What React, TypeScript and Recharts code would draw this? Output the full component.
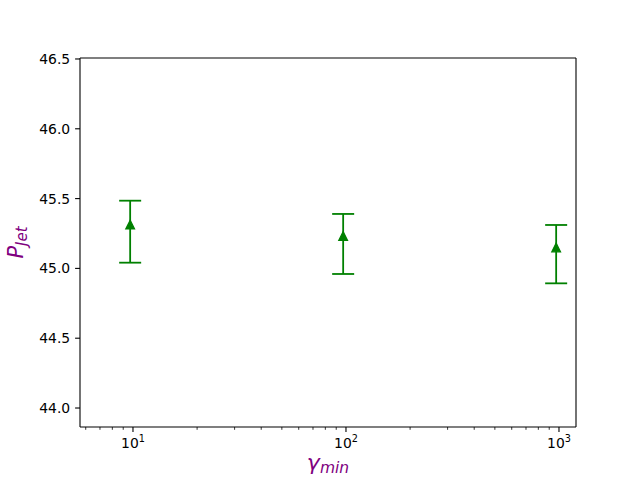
import React from 'react';
import { ComposedChart, Scatter, ErrorBar, XAxis, YAxis } from 'recharts';

// gamma_min values (x), P_jet values (y), asymmetric errors
const gammaMin = [9.7, 97, 970];
const pJet = [45.314, 45.232, 45.15];
const errLow = [0.273, 0.272, 0.257];
const errHigh = [0.171, 0.158, 0.161];

const yTicks = [44.0, 44.5, 45.0, 45.5, 46.0, 46.5];
const xDomain = [5.64, 1202];
const yDomain = [43.864, 46.507];
const xTicks: number[] = [];
for (let d = 0; d <= 3; d++) {
  for (let k = 1; k <= 9; k++) {
    const v = k * Math.pow(10, d);
    if (v >= xDomain[0] && v <= xDomain[1]) xTicks.push(v);
  }
}

const data = gammaMin.map((g, i) => ({ x: g, y: pJet[i], err: [errLow[i], errHigh[i]] }));

const GREEN = '#008000';
const PURPLE = '#800080';
const FONT = 'DejaVu Sans';

const XTick = (props: any) => {
  const { x, y, payload } = props;
  const v = payload.value as number;
  const lg = Math.log10(v);
  const exp = Math.round(lg);
  const major = Math.abs(lg - exp) < 1e-6;
  return (
    <g>
      <line x1={x} y1={y} x2={x} y2={y + (major ? 4.9 : 2.8)} stroke="#000" strokeWidth={major ? 1.1 : 0.8} />
      {major && (
        <text x={x} y={y + 21} textAnchor="middle" fontFamily={FONT} fontSize={13.9} fill="#000">
          10<tspan dy={-6} fontSize={9.7}>{exp}</tspan>
        </text>
      )}
    </g>
  );
};

const YTick = (props: any) => {
  const { x, y, payload } = props;
  return (
    <g>
      <line x1={x} y1={y} x2={x - 4.9} y2={y} stroke="#000" strokeWidth={1.1} />
      <text x={x - 9.8} y={y} dy="0.36em" textAnchor="end" fontFamily={FONT} fontSize={13.9} fill="#000">
        {Number(payload.value).toFixed(1)}
      </text>
    </g>
  );
};

const Triangle = (props: any) => {
  const { cx, cy } = props;
  const h = 4.4;
  return (
    <path
      d={`M${cx},${cy - h} L${cx - h},${cy + h} L${cx + h},${cy + h} Z`}
      fill={GREEN}
      stroke={GREEN}
      strokeWidth={1.2}
      strokeLinejoin="miter"
    />
  );
};

const YLabel = (props: any) => {
  const vb = props.viewBox || { x: 20, y: 58, width: 60, height: 369 };
  const cx = vb.x + vb.width - 57;
  const cy = vb.y + vb.height / 2;
  return (
    <text
      x={cx}
      y={cy}
      transform={`rotate(-90 ${cx} ${cy})`}
      textAnchor="middle"
      fontFamily={FONT}
      fontStyle="italic"
      fontSize={21}
      fill={PURPLE}
    >
      P<tspan dy={4} fontSize={15}>Jet</tspan>
    </text>
  );
};

const XLabel = (props: any) => {
  const vb = props.viewBox || { x: 80, y: 427, width: 496 };
  const cx = vb.x + vb.width / 2;
  return (
    <text x={cx} y={470} textAnchor="middle" fontFamily={FONT} fontStyle="italic" fontSize={22} fill={PURPLE}>
      γ<tspan dy={3} fontSize={15.5}>min</tspan>
    </text>
  );
};

export default function App() {
  return (
    <div style={{ position: 'absolute', left: 0, top: 0, width: 640, height: 480, background: '#fff' }}>
      <ComposedChart width={640} height={480} data={data} margin={{ top: 57, right: 63, bottom: 23, left: 20 }}>
        <XAxis
          dataKey="x"
          type="number"
          scale="log"
          domain={xDomain}
          allowDataOverflow
          ticks={xTicks}
          interval={0}
          height={30}
          tickSize={0}
          tickMargin={0}
          tickLine={false}
          tick={<XTick />}
          axisLine={{ stroke: '#000', strokeWidth: 1.1 }}
          label={{ content: <XLabel /> }}
        />
        <XAxis
          xAxisId="top"
          orientation="top"
          dataKey="x"
          type="number"
          scale="log"
          domain={xDomain}
          allowDataOverflow
          height={1}
          tick={false}
          tickLine={false}
          axisLine={{ stroke: '#000', strokeWidth: 1.1 }}
        />
        <YAxis
          dataKey="y"
          type="number"
          domain={yDomain}
          allowDataOverflow
          ticks={yTicks}
          interval={0}
          width={60}
          tickSize={0}
          tickMargin={0}
          tickLine={false}
          tick={<YTick />}
          axisLine={{ stroke: '#000', strokeWidth: 1.1 }}
          label={{ content: <YLabel /> }}
        />
        <YAxis
          yAxisId="right"
          orientation="right"
          type="number"
          domain={yDomain}
          allowDataOverflow
          width={1}
          tick={false}
          tickLine={false}
          axisLine={{ stroke: '#000', strokeWidth: 1.1 }}
        />
        <Scatter dataKey="y" fill={GREEN} shape={<Triangle />} isAnimationActive={false}>
          <ErrorBar dataKey="err" direction="y" width={11} stroke={GREEN} strokeWidth={1.8} isAnimationActive={false} />
        </Scatter>
      </ComposedChart>
    </div>
  );
}
